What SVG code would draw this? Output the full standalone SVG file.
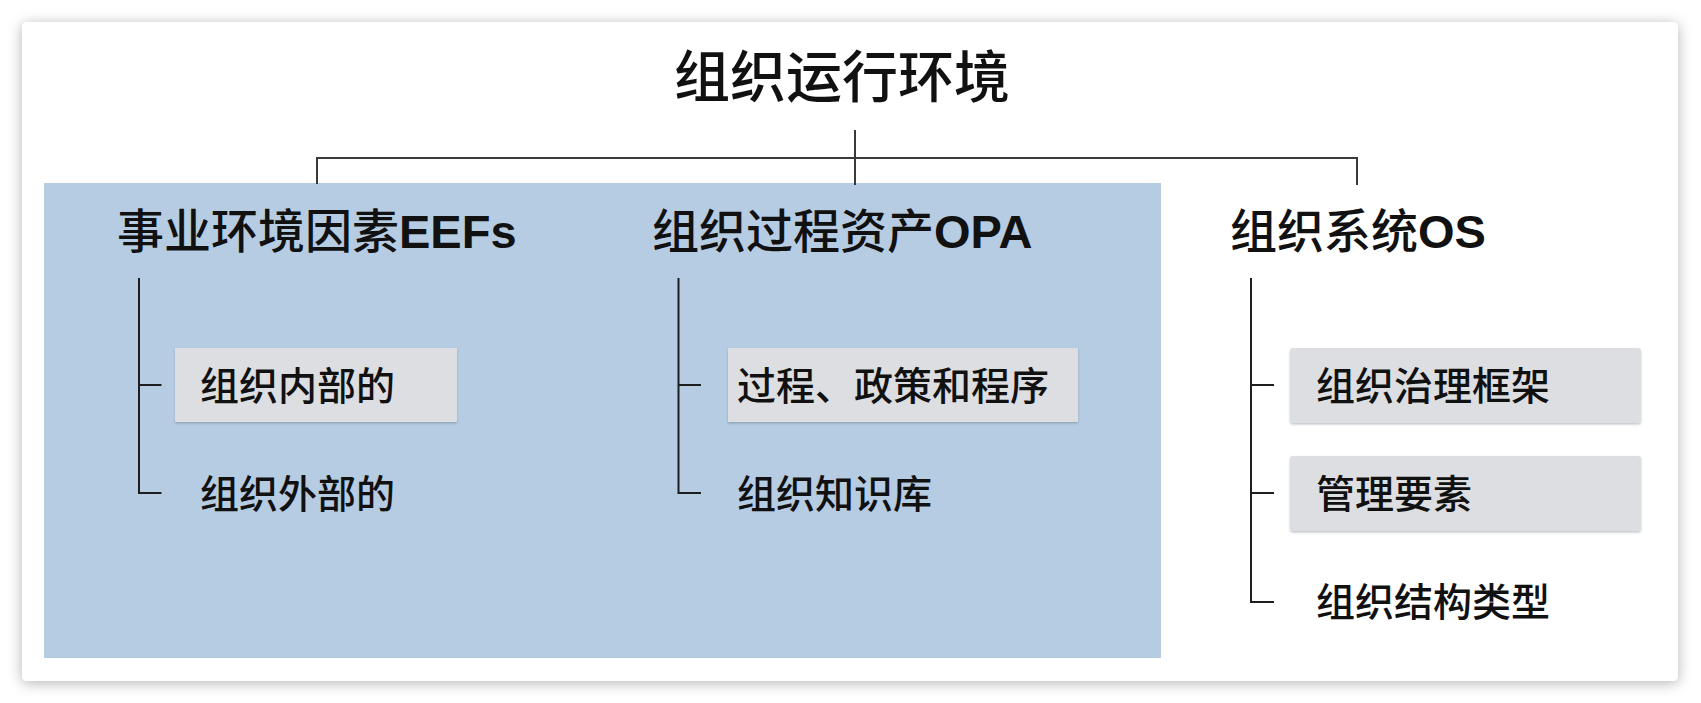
<svg xmlns="http://www.w3.org/2000/svg" width="1701" height="703" viewBox="0 0 1701 703">
  <style>
    text { font-family: "Liberation Sans", "Noto Sans CJK SC", sans-serif; fill: #111; font-weight: 500; }
    .title { font-size: 56px; }
    .head { font-size: 47px; }
    .latin { font-weight: bold; }
    .item { font-size: 39px; }
    .link { fill: none; stroke: #3a3a3a; stroke-width: 2; }
    .tree { fill: none; stroke: #1e1e1e; stroke-width: 2; }
    .chip { fill: #dcdee1; filter: url(#chipShadow); }
  </style>
  <defs>
    <filter id="cardShadow" x="-5%" y="-10%" width="110%" height="120%">
      <feDropShadow dx="0" dy="2" stdDeviation="7" flood-color="#000" flood-opacity="0.3"/>
    </filter>
    <filter id="chipShadow" x="-5%" y="-10%" width="110%" height="130%">
      <feDropShadow dx="0" dy="1.5" stdDeviation="1" flood-color="#4a5a6a" flood-opacity="0.35"/>
    </filter>
  </defs>

  <rect x="0" y="0" width="1701" height="703" fill="#ffffff"/>

  <!-- card -->
  <rect x="22" y="22" width="1656" height="659" rx="5" fill="#ffffff" filter="url(#cardShadow)"/>

  <!-- shaded panel behind EEFs and OPA -->
  <rect id="panel" x="44" y="183" width="1117" height="475" fill="#b6cce3"/>

  <!-- connectors -->
  <g id="connectors">
    <path class="link" d="M855 130 V185"/>
    <path class="link" d="M317 184 V158 H1357 V185"/>
    <path class="tree" d="M139 278 V493 H161.5 M139 385 H161.5"/>
    <path class="tree" d="M678.5 278 V493 H701 M678.5 385 H701"/>
    <path class="tree" d="M1251 278 V602 H1274 M1251 385 H1274 M1251 493 H1274"/>
  </g>

  <g id="root">
    <text class="title" x="842" y="97" text-anchor="middle">组织运行环境</text>
  </g>

  <g id="eefs">
    <text class="head" x="117" y="248">事业环境因素<tspan class="latin">EEFs</tspan></text>
  </g>
  <g id="eefs-internal">
    <rect class="chip" x="175" y="348" width="282" height="74"/>
    <text class="item" x="200" y="400">组织内部的</text>
  </g>
  <g id="eefs-external">
    <text class="item" x="200" y="508">组织外部的</text>
  </g>

  <g id="opa">
    <text class="head" x="652" y="248">组织过程资产<tspan class="latin">OPA</tspan></text>
  </g>
  <g id="opa-process">
    <rect class="chip" x="728" y="348" width="350" height="74"/>
    <text class="item" x="737" y="400">过程、政策和程序</text>
  </g>
  <g id="opa-knowledge">
    <text class="item" x="737" y="508">组织知识库</text>
  </g>

  <g id="os">
    <text class="head" x="1230" y="248">组织系统<tspan class="latin">OS</tspan></text>
  </g>
  <g id="os-governance">
    <rect class="chip" x="1290" y="348" width="351" height="75" rx="3"/>
    <text class="item" x="1316" y="400">组织治理框架</text>
  </g>
  <g id="os-management">
    <rect class="chip" x="1290" y="456" width="351" height="75" rx="3"/>
    <text class="item" x="1316" y="508">管理要素</text>
  </g>
  <g id="os-structure">
    <text class="item" x="1316" y="616">组织结构类型</text>
  </g>
</svg>
